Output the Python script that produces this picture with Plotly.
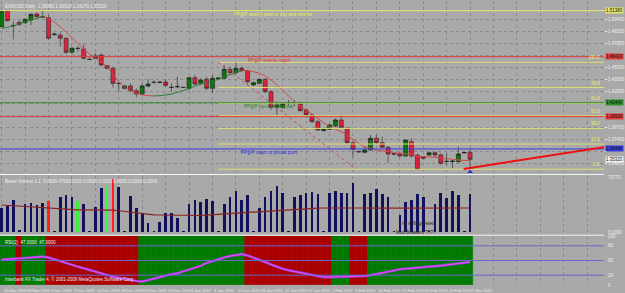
import plotly.graph_objects as go

# ---------------- data ----------------
bar_dates = [
    "25 Nov 2009", "26 Nov 2009", "27 Nov 2009", "29 Nov 2009", "30 Nov 2009",
    "1 Dec 2009", "2 Dec 2009", "3 Dec 2009", "4 Dec 2009", "6 Dec 2009", "7 Dec 2009",
    "8 Dec 2009", "9 Dec 2009", "10 Dec 2009", "11 Dec 2009", "13 Dec 2009", "14 Dec 2009",
    "15 Dec 2009", "16 Dec 2009", "17 Dec 2009", "18 Dec 2009", "20 Dec 2009", "21 Dec 2009",
    "22 Dec 2009", "23 Dec 2009", "24 Dec 2009", "27 Dec 2009", "28 Dec 2009", "29 Dec 2009",
    "30 Dec 2009", "31 Dec 2009", "3 Jan 2010", "4 Jan 2010", "5 Jan 2010", "6 Jan 2010",
    "7 Jan 2010", "8 Jan 2010", "10 Jan 2010", "11 Jan 2010", "12 Jan 2010", "13 Jan 2010",
    "14 Jan 2010", "15 Jan 2010", "17 Jan 2010", "18 Jan 2010", "19 Jan 2010", "20 Jan 2010",
    "21 Jan 2010", "22 Jan 2010", "24 Jan 2010", "25 Jan 2010", "26 Jan 2010", "27 Jan 2010",
    "28 Jan 2010", "29 Jan 2010", "31 Jan 2010", "1 Feb 2010", "2 Feb 2010", "3 Feb 2010",
    "4 Feb 2010", "5 Feb 2010", "7 Feb 2010", "8 Feb 2010", "9 Feb 2010", "10 Feb 2010",
    "11 Feb 2010", "12 Feb 2010", "14 Feb 2010", "15 Feb 2010", "16 Feb 2010", "17 Feb 2010",
    "18 Feb 2010", "19 Feb 2010", "21 Feb 2010", "22 Feb 2010", "23 Feb 2010", "24 Feb 2010",
    "25 Feb 2010", "26 Feb 2010", "28 Feb 2010", "1 Mar 2010",
]

open_ = [1.4965, 1.5134, 1.4979, 1.5012, 1.5008, 1.5037, 1.5102, 1.5073, 1.5062, 1.4880,
         1.4875, 1.4839, 1.4688, 1.4733, 1.4724, 1.4614, 1.4623, 1.4659, 1.4544, 1.4515,
         1.4355, 1.4299, 1.4324, 1.4274, 1.4238, 1.4324, 1.4366, 1.4362, 1.4367, 1.4312,
         1.4315, 1.4310, 1.4299, 1.4414, 1.4353, 1.4396, 1.4299, 1.4400, 1.4407, 1.4504,
         1.4468, 1.4515, 1.4490, 1.4335, 1.4353, 1.4396, 1.4263, 1.4094, 1.4094, 1.4142,
         1.4146, 1.4130, 1.4065, 1.4011, 1.3939, 1.3842, 1.3856, 1.3892, 1.3957, 1.3867,
         1.3712, 1.3617, 1.3608, 1.3633, 1.3759, 1.3712, 1.3662, 1.3592, 1.3597, 1.3568,
         1.3723, 1.3579, 1.3561, 1.3579, 1.3604, 1.3579, 1.3513, 1.3509, 1.3507, 1.3601,
         1.3608]
high = [1.5145, 1.5145, 1.5019, 1.5030, 1.5055, 1.5109, 1.5116, 1.5145, 1.5091, 1.4900,
        1.4904, 1.4850, 1.4749, 1.4756, 1.4778, 1.4634, 1.4677, 1.4677, 1.4551, 1.4533,
        1.4360, 1.4335, 1.4353, 1.4299, 1.4353, 1.4396, 1.4389, 1.4375, 1.4396, 1.4353,
        1.4425, 1.4317, 1.4425, 1.4443, 1.4407, 1.4425, 1.4443, 1.4418, 1.4551, 1.4533,
        1.4580, 1.4533, 1.4497, 1.4371, 1.4407, 1.4407, 1.4281, 1.4155, 1.4144, 1.4173,
        1.4173, 1.4155, 1.4083, 1.4029, 1.3957, 1.3867, 1.3914, 1.3975, 1.4011, 1.3885,
        1.3723, 1.3626, 1.3669, 1.3795, 1.3795, 1.3777, 1.3676, 1.3597, 1.3604, 1.3748,
        1.3759, 1.3590, 1.3568, 1.3615, 1.3615, 1.3597, 1.3597, 1.3525, 1.3669, 1.3615,
        1.3651]
low = [1.4958, 1.5019, 1.4828, 1.4972, 1.4994, 1.4983, 1.5055, 1.5055, 1.4828, 1.4864,
       1.4749, 1.4670, 1.4670, 1.4695, 1.4612, 1.4605, 1.4612, 1.4533, 1.4504, 1.4310,
       1.4263, 1.4288, 1.4263, 1.4202, 1.4227, 1.4310, 1.4353, 1.4353, 1.4317, 1.4263,
       1.4299, 1.4303, 1.4281, 1.4335, 1.4335, 1.4281, 1.4252, 1.4396, 1.4396, 1.4454,
       1.4454, 1.4479, 1.4335, 1.4324, 1.4346, 1.4245, 1.4065, 1.4011, 1.4083, 1.4119,
       1.4108, 1.4047, 1.3993, 1.3928, 1.3842, 1.3835, 1.3849, 1.3878, 1.3867, 1.3697,
       1.3554, 1.3604, 1.3597, 1.3626, 1.3697, 1.3651, 1.3496, 1.3579, 1.3561, 1.3561,
       1.3554, 1.3417, 1.3532, 1.3568, 1.3561, 1.3471, 1.3471, 1.3435, 1.3496, 1.3597,
       1.3417]
close = [1.5134, 1.5030, 1.4976, 1.4990, 1.5044, 1.5098, 1.5073, 1.5069, 1.4839, 1.4884,
         1.4839, 1.4688, 1.4731, 1.4729, 1.4623, 1.4610, 1.4648, 1.4551, 1.4515, 1.4353,
         1.4351, 1.4324, 1.4274, 1.4238, 1.4324, 1.4346, 1.4362, 1.4366, 1.4331, 1.4308,
         1.4319, 1.4308, 1.4414, 1.4346, 1.4389, 1.4299, 1.4407, 1.4410, 1.4504, 1.4468,
         1.4515, 1.4490, 1.4371, 1.4360, 1.4396, 1.4263, 1.4094, 1.4119, 1.4137, 1.4146,
         1.4142, 1.4058, 1.4011, 1.3939, 1.3849, 1.3856, 1.3903, 1.3957, 1.3878, 1.3712,
         1.3640, 1.3613, 1.3633, 1.3759, 1.3712, 1.3662, 1.3590, 1.3588, 1.3568, 1.3741,
         1.3568, 1.3424, 1.3543, 1.3604, 1.3579, 1.3489, 1.3509, 1.3513, 1.3590, 1.3606,
         1.3532]

# colour-changing moving average on price
ma_price = [1.4947, 1.4958, 1.4972, 1.4994, 1.5019, 1.5037, 1.5055, 1.5073, 1.5055, 1.5015,
            1.4965, 1.4907, 1.4846, 1.4785, 1.4720, 1.4670, 1.4627, 1.4583, 1.4533, 1.4454,
            1.4371, 1.4310, 1.4274, 1.4245, 1.4227, 1.4220, 1.4217, 1.4220, 1.4227, 1.4238,
            1.4256, 1.4274, 1.4299, 1.4324, 1.4346, 1.4360, 1.4375, 1.4396, 1.4425, 1.4447,
            1.4468, 1.4490, 1.4488, 1.4479, 1.4461, 1.4432, 1.4389, 1.4335, 1.4281, 1.4217,
            1.4155, 1.4108, 1.4065, 1.4022, 1.3975, 1.3928, 1.3885, 1.3856, 1.3831, 1.3795,
            1.3748, 1.3705, 1.3669, 1.3647, 1.3633, 1.3622, 1.3615, 1.3604, 1.3597, 1.3590,
            1.3583, 1.3568, 1.3561, 1.3557, 1.3554, 1.3547, 1.3539, 1.3532, 1.3525, 1.3521,
            1.3518]

volume = [30900, 33400, 40700, 1300, 35600, 36900, 34300, 37200, 39800, 1200,
          44500, 47000, 44900, 39800, 35600, 1100, 31800, 56300, 58800, 67400,
          56800, 1000, 46100, 30900, 23800, 11800, 900, 13100, 23800, 24500,
          17400, 800, 35200, 40700, 38000, 42000, 40000, 1000, 36000, 44000,
          52000, 41000, 47000, 1000, 30000, 45000, 52000, 58000, 50000, 1000,
          44000, 47000, 49000, 51000, 48000, 1000, 50000, 52000, 50000, 49000,
          62000, 1000, 48000, 50000, 55000, 48000, 45000, 1000, 21600, 38500,
          40700, 47900, 44900, 1000, 35600, 49200, 42800, 52100, 47000, 1200,
          47936]
# volume bar class: 0 normal, 1 climax (red), 2 low-churn (green)
volume_class = [0, 0, 0, 0, 0, 0, 0, 0, 1, 0,
                0, 0, 0, 2, 0, 0, 0, 0, 2, 1,
                0, 0, 0, 0, 0, 0, 0, 0, 0, 0,
                0, 0, 0, 0, 0, 0, 0, 0, 0, 0,
                0, 0, 0, 0, 0, 0, 0, 0, 0, 0,
                0, 0, 0, 0, 0, 0, 0, 0, 0, 0,
                0, 0, 0, 0, 0, 0, 0, 0, 0, 0,
                0, 0, 0, 0, 0, 0, 0, 0, 0, 0,
                0]
volume_ma = [34300, 33800, 33200, 32600, 32000, 31400, 30900, 30400, 29900, 29400,
             29000, 28600, 28300, 28100, 28000, 28000, 28000, 28000, 28000, 27800,
             27000, 26000, 25000, 24000, 23000, 22300, 21800, 21600, 21400, 21200,
             21000, 20800, 20700, 20700, 21000, 21500, 22000, 22600, 23100, 23700,
             24200, 24600, 25100, 25500, 26000, 26600, 27100, 27500, 28100, 28500,
             29000, 29400, 29900, 30200, 30400, 30500, 30600, 30600, 30700, 30500,
             30600, 30500, 30400, 30500, 30400, 30400, 30300, 30400, 30500, 30500,
             30500, 30400, 30500, 30500, 30400, 30500, 30500, 30600, 30500, 30500,
             30500]

osc = [52, 52.5, 53, 54, 55, 56, 57, 58, 56, 52,
       48, 44, 41, 37.5, 34, 31, 27.5, 24, 20.5, 17,
       14.5, 12, 10, 8, 7, 10, 13.5, 17, 19.5, 22,
       24, 27.5, 31, 34, 39, 45, 49, 53, 56, 59,
       61.5, 63, 60, 56, 52, 47, 42, 37, 33, 30,
       27.5, 25, 22.5, 20, 18, 16, 16, 16.5, 17, 17,
       17, 17, 18.5, 20, 22, 24.5, 27, 29.5, 32, 33,
       33.5, 34, 35.5, 37, 38, 39.5, 41, 42.5, 44, 45.5,
       47]
# trend state per bar: 1 = up (green), 0 = down (red)
trend_state = [1, 1, 1, 0, 1, 1, 1, 1, 0, 0,
               0, 0, 0, 0, 0, 0, 0, 0, 0, 0,
               0, 0, 0, 0, 1, 1, 1, 1, 1, 1,
               1, 1, 1, 1, 1, 1, 1, 1, 1, 1,
               1, 1, 0, 0, 0, 0, 0, 0, 0, 0,
               0, 0, 0, 0, 0, 0, 0, 1, 1, 1,
               0, 0, 0, 1, 1, 1, 1, 1, 1, 1,
               1, 1, 1, 1, 1, 1, 1, 1, 1, 1,
               1]

label_every = 4
price_grid = [1.5045, 1.4915, 1.4785, 1.4655, 1.4525, 1.4395, 1.4265, 1.4135,
              1.4005, 1.3875, 1.3745, 1.3615, 1.3485]

level_prices = [1.5138, 1.4641, 1.4144, 1.3993, 1.3644]
level_names = ["PP@P weekly pivot or day and reverse", "PP@P reverse major",
               "PP@P top of trading pair", "", "PP@P major or pivotal point"]

fib_high, fib_low = 1.4580, 1.3425
fib_start_bar, fib_end_bar = 37, 60.5
fib_ratios = [0.0, 0.236, 0.382, 0.5, 0.618, 0.764, 1.0]

trend_bars = [78.9, 104]
trend_prices = [1.3428, 1.3674]
osc_levels = [20, 50, 80]

# ---------------- styling ----------------
BG = "#a9a9a9"
GRID = "#8a8a8a"
FG = "#eeeeee"
level_colors = ["#e6e66a", "#e03a3a", "#2f8f2f", "#e03a3a", "#3a3ae0"]
level_text_colors = ["#eeee55", "#e03030", "#1f7f1f", "#e03030", "#2a2ad0"]
level_text_bar = [39.4, 41.8, 41.0, 41.0, 40.6]
FIB = "#e0e070"

n = len(bar_dates)
x = list(range(n))
W, H = 625, 293
right_px = 611
xdom = [0, right_px / W]
def ydom(top_px, bot_px):
    return [1 - bot_px / H, 1 - top_px / H]

main_dom = ydom(1, 173)
vol_dom = ydom(176, 232)
osc_dom = ydom(236, 285)
x_range = [-0.29, 102.9]
main_range = [1.5253 - 0.00108 * 173, 1.5253 - 0.00108 * 1]
vol_range = [0, 71176]

fig = go.Figure()

# price candles
fig.add_trace(go.Candlestick(
    x=x, open=open_, high=high, low=low, close=close,
    increasing=dict(fillcolor="#0a7a0a", line=dict(color="#1a1a1a", width=0.6)),
    decreasing=dict(fillcolor="#e0203c", line=dict(color="#2a2a2a", width=0.6)),
    whiskerwidth=0, xaxis="x", yaxis="y", hoverinfo="skip", showlegend=False))

# colour-changing MA
seg = {True: ([], []), False: ([], [])}
for i in range(1, n):
    up = ma_price[i] >= ma_price[i - 1]
    seg[up][0].extend([x[i - 1], x[i], None])
    seg[up][1].extend([ma_price[i - 1], ma_price[i], None])
for up, col in ((True, "#2e7d32"), (False, "#d24a4a")):
    fig.add_trace(go.Scatter(x=seg[up][0], y=seg[up][1], mode="lines",
                             line=dict(color=col, width=1), xaxis="x", yaxis="y",
                             hoverinfo="skip", showlegend=False))

# last-bar arrow
fig.add_trace(go.Scatter(x=[x[-1]], y=[low[-1] - 0.0018], mode="markers",
                         marker=dict(symbol="triangle-up", size=5, color="#3030d0"),
                         xaxis="x", yaxis="y", hoverinfo="skip", showlegend=False))

# volume
vcols = {0: "#12125c", 1: "#ff2020", 2: "#40f040"}
fig.add_trace(go.Bar(x=x, y=volume, width=0.45,
                     marker=dict(color=[vcols[c] for c in volume_class], line=dict(width=0)),
                     xaxis="x2", yaxis="y2", hoverinfo="skip", showlegend=False))
fig.add_trace(go.Scatter(x=x, y=volume_ma, mode="lines",
                         line=dict(color="#8a2020", width=1.2),
                         xaxis="x2", yaxis="y2", hoverinfo="skip", showlegend=False))

# oscillator background bands
bcols = ["#aa0000" if s == 0 else "#007a00" for s in trend_state]
fig.add_trace(go.Bar(x=x, y=[100] * n, width=1.0,
                     marker=dict(color=bcols, line=dict(color=bcols, width=0.6)),
                     xaxis="x3", yaxis="y3", hoverinfo="skip", showlegend=False))
fig.add_trace(go.Scatter(x=x, y=osc, mode="lines", line=dict(color="#8a4ad8", width=2.6),
                         xaxis="x3", yaxis="y3", hoverinfo="skip", showlegend=False))
fig.add_trace(go.Scatter(x=x, y=osc, mode="lines", line=dict(color="#ff40ff", width=1),
                         xaxis="x3", yaxis="y3", hoverinfo="skip", showlegend=False))

shapes = []
# fib retracement
for r in fib_ratios:
    p = fib_low + r * (fib_high - fib_low)
    shapes.append(dict(type="line", xref="x", yref="y", x0=fib_start_bar, x1=x_range[1] + 5,
                       y0=p, y1=p, line=dict(color=FIB, width=1), layer="above"))
shapes.append(dict(type="line", xref="x", yref="y", x0=fib_start_bar, x1=fib_end_bar,
                   y0=fib_high, y1=fib_low, line=dict(color="#c85050", width=1, dash="dot"),
                   layer="above"))
# horizontal levels
for p, c in zip(level_prices, level_colors):
    shapes.append(dict(type="line", xref="x", yref="y", x0=x_range[0] - 1, x1=x_range[1] + 5,
                       y0=p, y1=p, line=dict(color=c, width=1), layer="above"))
# trend line
shapes.append(dict(type="line", xref="x", yref="y", x0=trend_bars[0], x1=trend_bars[1],
                   y0=trend_prices[0], y1=trend_prices[1], line=dict(color="#ee1010", width=2),
                   layer="above"))
# oscillator levels
for lv in osc_levels:
    shapes.append(dict(type="line", xref="paper", yref="y3", x0=0, x1=xdom[1], y0=lv, y1=lv,
                       line=dict(color="#6868c8", width=1), layer="above"))
# pane separators
for sp in (174.5, 235.2):
    yy = 1 - sp / H
    shapes.append(dict(type="line", xref="paper", yref="paper", x0=0, x1=xdom[1], y0=yy, y1=yy,
                       line=dict(color="#f4f4f4", width=1)))

ann = []
small = dict(family="Liberation Sans, Arial", size=4.5)
tiny = dict(family="Liberation Sans, Arial", size=4)
# date labels
for i in range(0, n, label_every):
    ann.append(dict(x=x[i], y=1 - 286 / H, xref="x3", yref="paper", text=bar_dates[i],
                    showarrow=False, xanchor="left", yanchor="top", xshift=0,
                    font=dict(tiny, color=FG)))
# level text labels
for p, t, c, b in zip(level_prices, level_names, level_text_colors, level_text_bar):
    if t:
        ann.append(dict(x=b, y=p, xref="x", yref="y", text=t, showarrow=False,
                        xanchor="left", yanchor="top", yshift=1, font=dict(small, color=c)))
# level price tags on the axis
for p, c in zip(level_prices, level_colors):
    ann.append(dict(x=xdom[1], y=p, xref="paper", yref="y", text=f"{p:.5f}", showarrow=False,
                    xanchor="left", yanchor="middle", bgcolor=c, borderpad=0, xshift=1,
                    font=dict(small, color="#111111")))
ann.append(dict(x=xdom[1], y=close[-1], xref="paper", yref="y", text=f"{close[-1]:.5f}",
                showarrow=False, xanchor="left", yanchor="middle", bgcolor="#f4f4f4",
                borderpad=0, xshift=1, font=dict(small, color="#111111")))
# fib labels
for r in fib_ratios:
    p = fib_low + r * (fib_high - fib_low)
    ann.append(dict(x=xdom[1], y=p, xref="paper", yref="y", text=f"{r * 100:.1f}",
                    showarrow=False, xanchor="right", yanchor="bottom", xshift=-2,
                    font=dict(small, color="#eeee66")))
# pane titles
ann.append(dict(x=0.005, y=1 - 2 / H, xref="paper", yref="paper",
                text=f"EURUSD,Daily  {open_[-1]:.5f} {high[-1]:.5f} {low[-1]:.5f} {close[-1]:.5f}",
                showarrow=False, xanchor="left", yanchor="top", font=dict(small, color=FG)))
ann.append(dict(x=0.005, y=1 - 177 / H, xref="paper", yref="paper",
                text=f"Better Volume 1.1  0.0000 {volume[-1]:.4f} 0.0000 0.0000 0.0000 0.0000 0.0000",
                showarrow=False, xanchor="left", yanchor="top", font=dict(small, color=FG)))
ann.append(dict(x=0.005, y=1 - 238 / H, xref="paper", yref="paper",
                text=f"RSI(2)  {osc[-1]:.4f}  {osc[-1]:.4f}",
                showarrow=False, xanchor="left", yanchor="top", font=dict(small, color=FG)))
ann.append(dict(x=0.005, y=1 - 284 / H, xref="paper", yref="paper",
                text="Interbank FX Trader 4, © 2001-2009 MetaQuotes Software Corp.",
                showarrow=False, xanchor="left", yanchor="bottom", font=dict(small, color=FG)))
ann.append(dict(x=68, y=1 - 223 / H, xref="x2", yref="paper", text="no selling/tested",
                showarrow=False, xanchor="left", yanchor="middle", font=dict(small, color="#222222")))
ann.append(dict(x=67, y=1 - 232 / H, xref="x2", yref="paper", text="Mod Breakers ????",
                showarrow=False, xanchor="left", yanchor="middle", font=dict(small, color="#222222")))
# oscillator axis labels
for lv, t in ((100, "100"), (80, "80"), (50, "50"), (20, "20"), (0, "0")):
    ann.append(dict(x=xdom[1], y=lv, xref="paper", yref="y3", text=t, showarrow=False,
                    xanchor="left", yanchor="middle", xshift=2, font=dict(small, color=FG)))
ann.append(dict(x=xdom[1], y=vol_range[1] * 0.97, xref="paper", yref="y2", text=f"{max(volume) * 1.05:.0f}",
                showarrow=False, xanchor="left", yanchor="middle", xshift=2, font=dict(small, color=FG)))
ann.append(dict(x=xdom[1], y=0, xref="paper", yref="y2", text="0.0000",
                showarrow=False, xanchor="left", yanchor="middle", xshift=2, font=dict(small, color=FG)))

# hide grid labels that sit under a level tag
tag_prices = level_prices + [close[-1]]
grid_text = [("" if min(abs(g - t) for t in tag_prices) < 0.0035 else f"{g:.5f}")
             for g in price_grid]

grid_ticks = list(range(0, 104, label_every))
xcommon = dict(range=x_range, domain=xdom, showticklabels=False, showgrid=True,
               gridcolor=GRID, griddash="dot", gridwidth=1, tickvals=grid_ticks,
               zeroline=False, showline=False, ticks="")

fig.update_layout(
    width=W, height=H, margin=dict(l=0, r=0, t=0, b=0),
    paper_bgcolor=BG, plot_bgcolor=BG, showlegend=False, bargap=0,
    boxgap=0.2, boxgroupgap=0.15,
    xaxis=dict(xcommon, rangeslider=dict(visible=False), anchor="y"),
    xaxis2=dict(xcommon, anchor="y2", matches="x"),
    xaxis3=dict(xcommon, anchor="y3", matches="x"),
    yaxis=dict(domain=main_dom, range=main_range, side="right", tickvals=price_grid,
               ticktext=grid_text, showgrid=True, gridcolor=GRID,
               griddash="dot", zeroline=False, ticks="outside", ticklen=2, tickcolor=FG,
               tickfont=dict(small, color=FG), anchor="x"),
    yaxis2=dict(domain=vol_dom, range=vol_range, showticklabels=False, showgrid=False,
                zeroline=False, anchor="x2"),
    yaxis3=dict(domain=osc_dom, range=[0, 100], showticklabels=False, showgrid=False,
                zeroline=False, anchor="x3"),
    shapes=shapes, annotations=ann,
)

fig.write_html("out.html")
